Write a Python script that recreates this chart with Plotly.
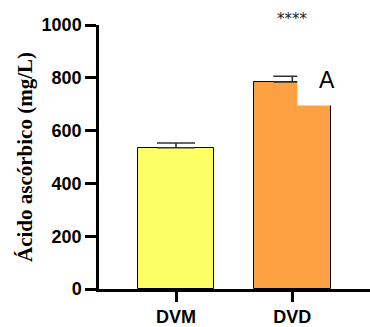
import plotly.graph_objects as go

categories = ["DVM", "DVD"]
means = [535, 784]
errors = [18, 22]
colors = ["#FFFF66", "#FDA042"]
y_ticks = [0, 200, 400, 600, 800, 1000]
y_title = "Ácido ascórbico (mg/L)"
sig_label = "****"
letter_label = "A"

fig = go.Figure()
fig.add_trace(go.Bar(
    x=categories, y=means,
    width=0.662,
    marker=dict(color=colors, line=dict(color="black", width=1)),
    error_y=dict(type="data", array=errors, arrayminus=[0, 0], symmetric=False,
                 color="#333333", thickness=1.6, width=19),
    showlegend=False,
))

# white patch over the top-right of the second bar (as in the reference)
fig.add_shape(type="rect", xref="x", yref="y", x0=1.043, x1=1.55, y0=695, y1=900,
              fillcolor="white", line=dict(width=0), layer="above")

fig.add_annotation(x=1.0, y=1.0, xref="x", yref="paper", text=sig_label,
                   showarrow=False, yanchor="middle", yshift=6,
                   font=dict(family="DejaVu Sans", size=15, color="#222222"))
fig.add_annotation(x=1.3, y=790, xref="x", yref="y", text=letter_label,
                   showarrow=False,
                   font=dict(family="Liberation Sans, Arial", size=23, color="black"))

fig.update_layout(
    width=370, height=327,
    margin=dict(l=99, r=0, t=25, b=35),
    plot_bgcolor="white", paper_bgcolor="white",
    bargap=0,
)
fig.update_xaxes(
    range=[-0.662, 1.668],
    showline=True, linecolor="black", linewidth=2.5,
    ticks="outside", ticklen=10, tickwidth=2.5, tickcolor="black",
    tickfont=dict(family="Liberation Sans, Arial", size=18, color="black", weight="bold"),
    showgrid=False, zeroline=False,
)
fig.update_yaxes(
    range=[0, 1000], tickvals=y_ticks,
    showline=True, linecolor="black", linewidth=2.5,
    ticks="outside", ticklen=11, tickwidth=2.5, tickcolor="black",
    tickfont=dict(family="Liberation Sans, Arial", size=18, color="black", weight="bold"),
    title=dict(text=y_title, standoff=4,
               font=dict(family="Liberation Serif, Times New Roman", size=21, color="black", weight="bold")),
    showgrid=False, zeroline=False,
)

fig.write_html("out.html")
